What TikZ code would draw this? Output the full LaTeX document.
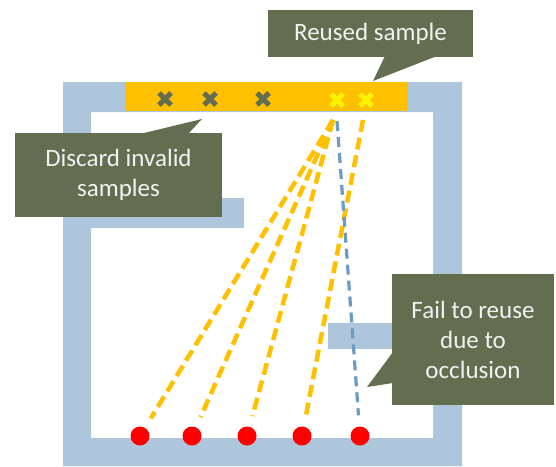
\documentclass[tikz,border=0pt]{standalone}
\usepackage{fontspec}
\setmainfont{Carlito}
\definecolor{frameblue}{RGB}{173,198,220}
\definecolor{barorange}{RGB}{255,192,0}
\definecolor{calloutgreen}{RGB}{98,110,79}
\definecolor{linkblue}{RGB}{108,156,196}
\definecolor{textwhite}{RGB}{242,242,242}
\tikzset{
  callbox/.style={fill=calloutgreen, text=textwhite, inner sep=0pt, align=center,
    font=\fontsize{25}{30}\selectfont},
  dotnode/.style={circle, fill=red, inner sep=0pt, minimum size=19pt},
  raylink/.style={barorange, line width=4.5pt, dash pattern=on 12pt off 6pt, shorten >=11pt},
  blockedlink/.style={linkblue, line width=3.2pt, dash pattern=on 10pt off 6pt, shorten >=11pt},
  badmark/.style={calloutgreen, line width=5pt},
  goodmark/.style={yellow, line width=5pt}
}
\begin{document}
\begin{tikzpicture}[x=1pt,y=-1pt]
\useasboundingbox (0,0) rectangle (556,466);
% frame
\fill[frameblue, even odd rule] (63,82) rectangle (462,466) (91,112) rectangle (433,438);
\fill[frameblue] (91,198) rectangle (244,228);
\fill[frameblue] (328,323) rectangle (433,349);
% orange bar
\fill[barorange] (125,82) rectangle (408,111);
% marks
\foreach \mx in {165,210,263}{
  \draw[badmark] (\mx-6,99-6) -- (\mx+6,99+6) (\mx-6,99+6) -- (\mx+6,99-6);
}
\foreach \mx in {337,366}{
  \draw[goodmark] (\mx-6,100-6) -- (\mx+6,100+6) (\mx-6,100+6) -- (\mx+6,100-6);
}
% callouts
\node[callbox, minimum width=205pt, minimum height=47pt] (reused) at (370.5,33.5) {Reused sample};
\fill[calloutgreen] (385,56) -- (437,56) -- (373,81) -- cycle;
\node[callbox, minimum width=207pt, minimum height=84pt] (discard) at (118.5,175) {\raisebox{-3pt}{Discard invalid}\\\raisebox{-3pt}{samples}};
\fill[calloutgreen] (140,134) -- (188,134) -- (202,119) -- cycle;
\node[callbox, minimum width=162pt, minimum height=131pt] (fail) at (473,339.5) {Fail to reuse\\due to\\occlusion};
\fill[calloutgreen] (393,352) -- (393,383) -- (367,387) -- cycle;
% origins
\coordinate (o1) at (333,120);
\coordinate (o2) at (363,120);
\coordinate (o3) at (337,121);
% dots
\node[dotnode] (d1) at (140,436) {};
\node[dotnode] (d2) at (192,436) {};
\node[dotnode] (d3) at (247,436) {};
\node[dotnode] (d4) at (302,436) {};
\node[dotnode] (d5) at (360,436) {};
% rays
\draw[raylink] (o1) -- (d1);
\draw[raylink] (o1) -- (d2);
\draw[raylink] (o1) -- (d3);
\draw[raylink] (o2) -- (d4);
\draw[blockedlink] (o3) -- (d5);
\end{tikzpicture}
\end{document}
